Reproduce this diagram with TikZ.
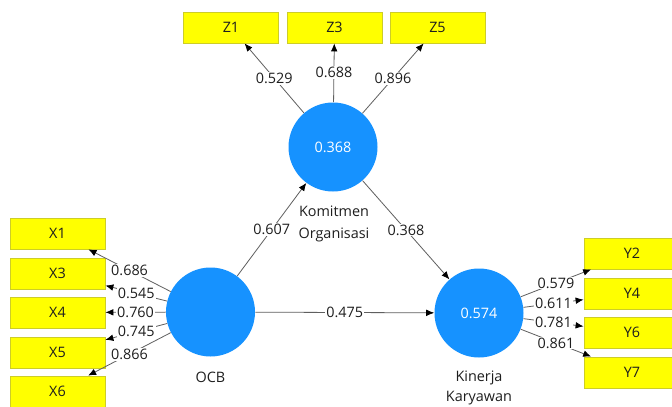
\documentclass[tikz,border=0pt]{standalone}
\usepackage{fontspec}
\setmainfont{Open Sans}
\usetikzlibrary{arrows.meta}
\definecolor{lvblue}{RGB}{22,146,255}
\definecolor{ind}{RGB}{255,255,0}
\definecolor{indborder}{RGB}{205,205,40}
\definecolor{linegray}{RGB}{95,95,95}
\definecolor{txt}{RGB}{30,30,30}
\begin{document}
\begin{tikzpicture}[x=0.75pt,y=-0.75pt,
  every node/.style={font=\fontsize{10.8pt}{13pt}\selectfont, text=txt},
  latent/.style={circle, fill=lvblue, draw=none, minimum size=66.75pt, inner sep=0pt, text=white},
  indbox/.style={rectangle, fill=ind, draw=indborder, line width=0.6pt, minimum width=71.25pt, minimum height=23.25pt, inner sep=0pt},
  ybox/.style={indbox, minimum width=72pt},
  arr/.style={draw=linegray, line width=0.6pt, -{Latex[length=6pt,width=5pt,color=black]}},
  lbl/.style={fill=white, inner sep=0.8pt, pos=0.5},
  captxt/.style={align=center}
]
\useasboundingbox (0,0) rectangle (672,407);
\fill[white] (0,0) rectangle (672,407);

% latent variables
\node[latent] (KO) at (333,147) {0.368};
\node[latent] (OCB) at (210.5,312) {};
\node[latent] (KK) at (479,313) {0.574};

% captions
\node[captxt] (capOCB) at (210.5,377) {OCB};
\node[captxt, font=\fontsize{10.8pt}{16pt}\selectfont] (capKO) at (334,224) {Komitmen\\Organisasi};
\node[captxt, font=\fontsize{10.8pt}{15pt}\selectfont] (capKK) at (479,388) {Kinerja\\Karyawan};

% indicators
\node[indbox] (X1) at (57.5,233.5) {X1};
\node[indbox] (X3) at (57.5,273.5) {X3};
\node[indbox] (X4) at (57.5,312.5) {X4};
\node[indbox] (X5) at (57.5,352.5) {X5};
\node[indbox] (X6) at (57.5,391.5) {X6};

\node[ybox] (Y2) at (632,253.5) {Y2};
\node[ybox] (Y4) at (632,293.5) {Y4};
\node[ybox] (Y6) at (632,332.5) {Y6};
\node[ybox] (Y7) at (632,372.5) {Y7};

\node[indbox] (Z1) at (231,27.5) {Z1};
\node[indbox] (Z3) at (334.5,27.5) {Z3};
\node[indbox] (Z5) at (437.5,27.5) {Z5};

% outer loadings
\draw[arr] (OCB) -- node[lbl]{0.686} (X1);
\draw[arr] (OCB) -- node[lbl]{0.545} (X3);
\draw[arr] (OCB) -- node[lbl]{0.760} (X4);
\draw[arr] (OCB) -- node[lbl]{0.745} (X5);
\draw[arr] (OCB) -- node[lbl]{0.866} (X6);

\draw[arr] (KK) -- node[lbl]{0.579} (Y2);
\draw[arr] (KK) -- node[lbl]{0.611} (Y4);
\draw[arr] (KK) -- node[lbl]{0.781} (Y6);
\draw[arr] (KK) -- node[lbl]{0.861} (Y7);

\draw[arr] (KO) -- node[lbl]{0.529} (Z1);
\draw[arr] (KO) -- node[lbl]{0.688} (Z3);
\draw[arr] (KO) -- node[lbl]{0.896} (Z5);

% path coefficients
\draw[arr] (OCB) -- node[lbl]{0.607} (KO);
\draw[arr] (KO) -- node[lbl]{0.368} (KK);
\draw[arr] (OCB) -- node[lbl]{0.475} (KK);
\end{tikzpicture}
\end{document}
